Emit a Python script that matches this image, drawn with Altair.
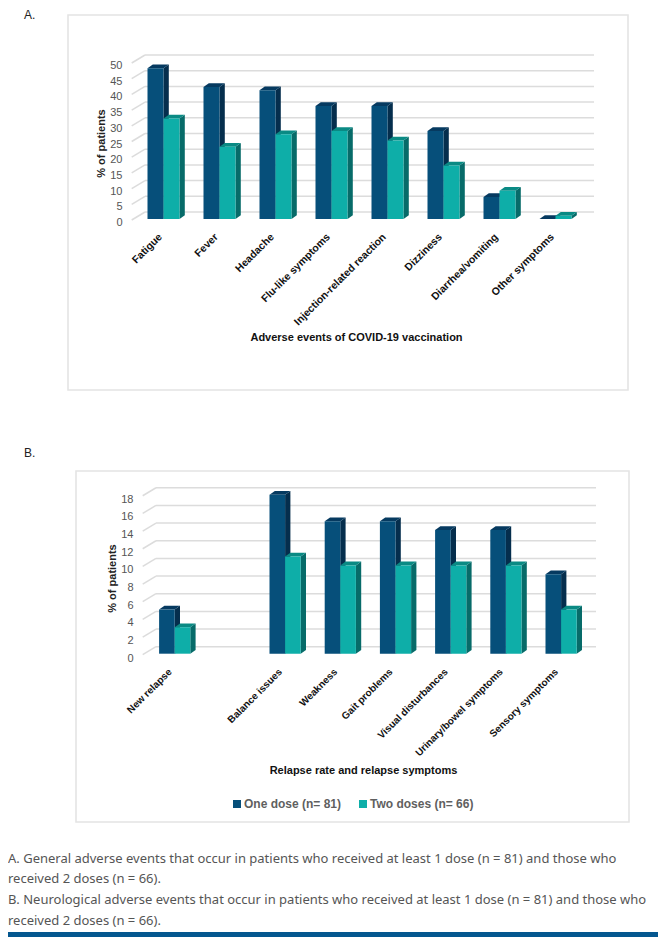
import json
import altair as alt
import pandas as pd

CAT_A = ["Fatigue", "Fever", "Headache", "Flu-like symptoms", "Injection-related reaction",
         "Dizziness", "Diarrhea/vomiting", "Other symptoms"]
ONE_A = [48, 42, 41, 36, 36, 28, 7, 0]
TWO_A = [32, 23, 27, 28, 25, 17, 9, 1]
TICKS_A = list(range(0, 51, 5))

CAT_B = ["New relapse", "", "Balance issues", "Weakness", "Gait problems", "Visual disturbances",
         "Urinary/bowel symptoms", "Sensory symptoms"]
ONE_B = [5, None, 18, 15, 15, 14, 14, 9]
TWO_B = [3, None, 11, 10, 10, 10, 10, 5]
TICKS_B = list(range(0, 19, 2))

SERIES = ["One dose (n= 81)", "Two doses (n= 66)"]
FRONT = ["#064f7a", "#0eaea8"]
SIDE = ["#052e4d", "#076b69"]
TOP = ["#063a60", "#0a8a84"]
CAPTIONS = [
    "A. General adverse events that occur in patients who received at least 1 dose (n = 81) and those who",
    "received 2 doses (n = 66).",
    "B. Neurological adverse events that occur in patients who received at least 1 dose (n = 81) and those who",
    "received 2 doses (n = 66).",
]
CAP_Y = [859, 879, 900, 921]
FONT = "Liberation Sans"
CAP_FONT = "Noto Sans"
W = 650
GRID = "#dcdcdc"
FRAME = "#e4e4e4"


def panel(cfg):
    top, H = cfg["top"], cfg["H"]
    base, unit, x0, step = cfg["base"], cfg["unit"], cfg["x0"], cfg["step"]
    xs = alt.Scale(domain=[(8 - x0) / step, (8 + W - x0) / step], nice=False, zero=False)
    ys = alt.Scale(domain=[(base - top - H) / unit, (base - top) / unit], nice=False, zero=False)
    hw = cfg["bar"] / step
    ddx, ddy = 5.3 / step, 3.8 / unit
    wx, wy = cfg["wall_x"], cfg["wall_dy"] / unit
    wall = (wx - x0) / step
    diag = wall - 13.3 / step
    right = (cfg["right"] - x0) / step

    x_axis = alt.Axis(
        orient="bottom", offset=cfg["xoff"], values=list(range(len(cfg["cats"]))),
        labelExpr=json.dumps(cfg["cats"]) + "[datum.value]", labelAngle=-45, labelAlign="right",
        labelBaseline="middle", labelPadding=0, labelOffset=cfg["xlo"], labelFont=FONT, labelFontWeight="bold",
        labelFontSize=cfg["lab"], labelColor="#111111", labelOverlap=False, labelLimit=300,
        labelFlush=False, labelBound=False,
        domain=False, ticks=False, grid=False, title=cfg["xtitle"], titleFont=FONT,
        titleFontWeight="bold", titleFontSize=11, titleColor="#111111",
        titleX=cfg["xt"][0], titleY=cfg["xt"][1], titleAlign="center", titleBaseline="middle")
    y_axis = alt.Axis(
        orient="left", offset=cfg["yoff"], values=cfg["ticks"], labelPadding=0, labelFont=FONT,
        labelFontSize=11, labelColor="#555555", labelOffset=cfg["loff"], labelOverlap=False,
        labelFlush=False, labelBound=False, domain=False, ticks=False, grid=False,
        title="% of patients", titleFont=FONT, titleFontWeight="bold", titleFontSize=11,
        titleColor="#222222", titleX=cfg["yt"][0], titleY=cfg["yt"][1], titleAlign="center",
        titleBaseline="middle")

    def X(f="x"):
        return alt.X(f, type="quantitative", scale=xs, axis=x_axis)

    def Y(f="y"):
        return alt.Y(f, type="quantitative", scale=ys, axis=y_axis)

    grid_rows = [{"x": wall, "x2": right, "y": t + wy, "y2": t + wy} for t in cfg["ticks"]]
    diag_rows = [{"x": diag, "x2": wall, "y": t - 1.0 / unit, "y2": t + wy} for t in cfg["ticks"]]
    layers = []
    layers.append(
        alt.Chart(pd.DataFrame({"k": [0]})).mark_rect(fillOpacity=0, stroke=FRAME, strokeWidth=1.6).encode(
            x=alt.value(cfg["frame"][0] - 8), x2=alt.value(cfg["frame"][2] - 8),
            y=alt.value(cfg["frame"][1] - top), y2=alt.value(cfg["frame"][3] - top))
    )
    layers.append(
        alt.Chart(pd.DataFrame(grid_rows + diag_rows)).mark_rule(color=GRID, strokeWidth=1.5).encode(
            x=X(), x2="x2:Q", y=Y(), y2="y2:Q")
    )
    front = []
    for s, vals in enumerate([cfg["one"], cfg["two"]]):
        lefts = [i + (s - 1) * hw for i in range(len(vals))]
        side, topf = [], []
        for i, (l, v) in enumerate(zip(lefts, vals)):
            if v is None:
                continue
            r = l + hw
            side += [{"k": i, "x": r, "y": v, "y2": 0}, {"k": i, "x": r + ddx, "y": v + ddy, "y2": ddy}]
            topf += [{"k": i, "x": l, "y": v, "y2": v},
                     {"k": i, "x": l + ddx, "y": v + ddy, "y2": v},
                     {"k": i, "x": r, "y": v + ddy, "y2": v},
                     {"k": i, "x": r + ddx, "y": v + ddy, "y2": v + ddy}]
            front.append({"x": l, "x2": r, "y": v, "y2": 0, "dose": SERIES[s]})
        layers.append(alt.Chart(pd.DataFrame(side)).mark_area(color=SIDE[s]).encode(
            x=X(), y=Y(), y2="y2:Q", detail="k:N"))
        layers.append(alt.Chart(pd.DataFrame(topf)).mark_area(color=TOP[s]).encode(
            x=X(), y=Y(), y2="y2:Q", detail="k:N"))
    layers.append(alt.Chart(pd.DataFrame(front)).mark_rect().encode(
        x=X(), x2="x2:Q", y=Y(), y2="y2:Q",
        color=alt.Color("dose:N", scale=alt.Scale(domain=SERIES, range=FRONT), legend=cfg["legend"])))
    layers.append(alt.Chart(pd.DataFrame({"t": [cfg["tag"]]})).mark_text(
        font=FONT, fontSize=12, color="#222222", align="left", baseline="middle").encode(
        x=alt.value(cfg["tagxy"][0] - 8), y=alt.value(cfg["tagxy"][1] - top), text="t:N"))
    layers += cfg.get("extra", [])
    return alt.layer(*layers).properties(width=W, height=H)


TOP_A, H_A = 8, 432
TOP_B, H_B = 440, 497

caption_layers = [
    alt.Chart(pd.DataFrame({"t": [t]})).mark_text(font=CAP_FONT, fontSize=13, color="#555555", align="left",
                                                  baseline="middle").encode(
        x=alt.value(0), y=alt.value(py - TOP_B), text="t:N")
    for t, py in zip(CAPTIONS, CAP_Y)
]
rule_bottom = alt.Chart(pd.DataFrame({"k": [0]})).mark_rect(color="#04578f").encode(
    x=alt.value(0), x2=alt.value(W), y=alt.value(932 - TOP_B), y2=alt.value(937 - TOP_B))

a = panel(dict(top=TOP_A, H=H_A, base=219, unit=3.14, x0=163.5, step=56, bar=16, wall_x=145, wall_dy=7,
               right=594, ticks=TICKS_A, cats=CAT_A, one=ONE_A, two=TWO_A, frame=(68, 15, 628, 390),
               xoff=-(TOP_A + H_A - 235), yoff=-(122 - 8), loff=3.5, lab=10.5, xlo=-3.5,
               xtitle="Adverse events of COVID-19 vaccination", xt=(348, 102), yt=(-21, 135),
               legend=None, tag="A.", tagxy=(24, 15)))
b = panel(dict(top=TOP_B, H=H_B, base=653.7, unit=8.83, x0=174.7, step=55.2, bar=15.6, wall_x=156, wall_dy=7,
               right=596, ticks=TICKS_B, cats=CAT_B, one=ONE_B, two=TWO_B, frame=(76, 471, 629, 822),
               xoff=-(TOP_B + H_B - 670), yoff=-(133 - 8), loff=4.5, lab=10, xlo=-5,
               xtitle="Relapse rate and relapse symptoms", xt=(355, 100), yt=(-21, 138),
               legend=alt.Legend(orient="none", legendX=223, legendY=806 - TOP_B - 8, direction="horizontal",
                                 title=None, symbolType="square", symbolSize=64, symbolStrokeWidth=0,
                                 labelFont=FONT, labelFontSize=12, labelFontWeight="bold", labelOffset=1,
                                 labelColor="#5f5f5f", columnPadding=15),
               tag="B.", tagxy=(24, 453), extra=caption_layers + [rule_bottom]))

chart = (alt.vconcat(a, b, spacing=0, bounds="flush")
         .resolve_scale(color="independent")
         .properties(padding=0, background="white")
         .configure_view(stroke=None))
chart.save("out.html", embed_options={"renderer": "svg", "actions": False})
